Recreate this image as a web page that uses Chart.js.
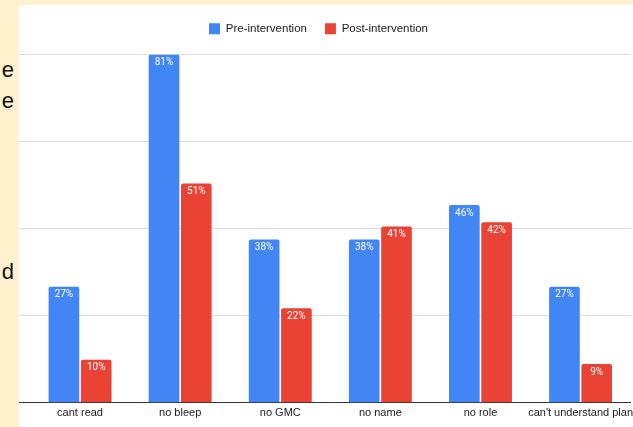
<!DOCTYPE html>
<html>
<head>
<meta charset="utf-8">
<script src="https://cdn.jsdelivr.net/npm/chart.js@4"></script>
<style>
  html, body { margin: 0; padding: 0; background: #fff2cc; overflow: hidden; }
  body { width: 633px; height: 427px; position: relative; }
  #chart-wrap { position: absolute; left: 0; top: 5px; width: 637px; height: 422px; background: #fff; }
  #side { position: absolute; left: 0; top: 0; width: 19px; height: 427px; background: #fff2cc; overflow: hidden;
          font-family: "Liberation Sans", Arial, sans-serif; font-size: 22px; color: #111; }
  #side span { position: absolute; right: 5px; }
</style>
</head>
<body>
<div id="chart-wrap"><canvas id="chart"></canvas></div>
<div id="side">
  <span style="top:57px">e</span>
  <span style="top:88px">e</span>
  <span style="top:259px">d</span>
</div>
<script>
// categories and values (percent)
const categories = ["cant read", "no bleep", "no GMC", "no name", "no role", "can't understand plan"];
const preIntervention = [27, 81, 38, 38, 46, 27];
const postIntervention = [10, 51, 22, 41, 42, 9];

const FONT = "'Liberation Sans', Arial, sans-serif";

// draws the "NN%" label just inside the top of each bar
const barLabels = {
  id: "barLabels",
  afterDatasetsDraw(chart) {
    const ctx = chart.ctx;
    ctx.save();
    ctx.font = "10px Roboto, 'Liberation Sans', sans-serif";
    ctx.fillStyle = "#ffffff";
    ctx.textAlign = "center";
    ctx.textBaseline = "top";
    chart.data.datasets.forEach((ds, i) => {
      chart.getDatasetMeta(i).data.forEach((bar, j) => {
        ctx.fillText(ds.data[j] + "%", bar.x, bar.y + 3);
      });
    });
    ctx.restore();
  }
};

// add some room under the legend
const legendGap = {
  id: "legendGap",
  beforeInit(chart) {
    const fit = chart.legend.fit;
    chart.legend.fit = function () {
      fit.bind(chart.legend)();
      this.height += 10;
    };
  }
};

const ctx = document.getElementById("chart").getContext("2d");
new Chart(ctx, {
  type: "bar",
  data: {
    labels: categories,
    datasets: [
      {
        label: "Pre-intervention",
        data: preIntervention,
        backgroundColor: "#4285f4",
        borderRadius: { topLeft: 2, topRight: 2 },
        borderSkipped: "start",
        categoryPercentage: 0.645,
        barPercentage: 0.95,
      },
      {
        label: "Post-intervention",
        data: postIntervention,
        backgroundColor: "#ea4335",
        borderRadius: { topLeft: 2, topRight: 2 },
        borderSkipped: "start",
        categoryPercentage: 0.645,
        barPercentage: 0.95,
      },
    ],
  },
  options: {
    responsive: true,
    maintainAspectRatio: false,
    animation: false,
    layout: { padding: { top: 0, bottom: 3, right: 0 } },
    plugins: {
      legend: {
        position: "top",
        labels: {
          boxWidth: 11,
          boxHeight: 11,
          padding: 18,
          color: "#222",
          font: { family: FONT, size: 11.5 },
        },
      },
      tooltip: { enabled: false },
    },
    scales: {
      x: {
        grid: { display: false, drawTicks: false },
        border: { display: true, color: "#333", width: 1 },
        ticks: {
          color: "#222",
          padding: 4,
          maxRotation: 0,
          autoSkip: false,
          font: { family: FONT, size: 11 },
        },
      },
      y: {
        min: 0,
        max: 81,
        ticks: { display: false, stepSize: 20.25 },
        border: { display: false },
        grid: {
          color: (c) => (c.tick && c.tick.value === 0 ? "#333" : "#dddddd"),
          drawTicks: true,
          tickLength: 30,
        },
      },
    },
  },
  plugins: [barLabels, legendGap],
});
</script>
</body>
</html>
